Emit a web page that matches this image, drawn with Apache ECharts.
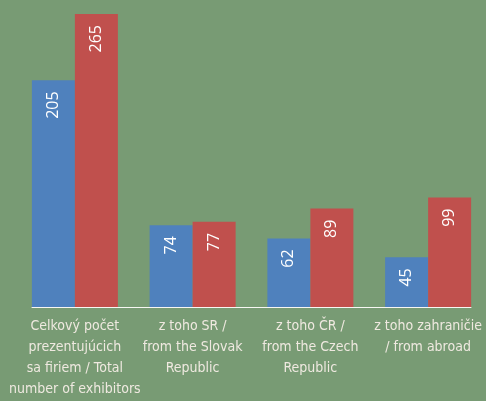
<!DOCTYPE html>
<html lang="en">
<head>
    <meta charset="UTF-8">
    <title>Exhibitors</title>
    <style>
        body, html {
            margin: 0;
            padding: 0;
            width: 100%;
            height: 100%;
            background-color: #789b74;
        }

        #container {
            width: 486px;
            height: 401px;
        }
    </style>
    <script src="https://cdn.jsdelivr.net/npm/echarts@6/dist/echarts.min.js"></script>
</head>
<body>
<div id="container"></div>
<script type="text/javascript">
    var categories = [
        'Celkový počet\nprezentujúcich\nsa firiem / Total\nnumber of exhibitors',
        'z toho SR /\nfrom the Slovak\nRepublic',
        'z toho ČR /\nfrom the Czech\nRepublic',
        'z toho zahraničie\n/ from abroad'
    ];
    var blueValues = [205, 74, 62, 45];
    var redValues = [265, 77, 89, 99];

    var dom = document.getElementById("container");
    var myChart = echarts.init(dom);

    var valueLabel = {
        show: true,
        position: 'insideTop',
        rotate: 90,
        align: 'right',
        verticalAlign: 'middle',
        distance: 11,
        color: '#ffffff',
        fontFamily: '"Open Sans", "Noto Sans", sans-serif',
        fontSize: 16
    };

    var option = {
        backgroundColor: '#789b74',
        animation: false,
        grid: [
            {left: 16, right: -1, top: 14, bottom: 94, outerBoundsMode: 'none', containLabel: false},
            // second grid only carries the shorter white axis line
            {left: 32, right: 15, top: 14, bottom: 94, outerBoundsMode: 'none', containLabel: false}
        ],
        xAxis: [{
            type: 'category',
            gridIndex: 0,
            data: categories,
            axisLine: {show: false},
            axisTick: {show: false},
            axisLabel: {
                interval: 0,
                margin: 9,
                color: '#efe9e0',
                fontFamily: '"Liberation Sans Narrow", "DejaVu Sans Condensed", sans-serif',
                fontSize: 14,
                lineHeight: 21
            }
        }, {
            type: 'category',
            gridIndex: 1,
            data: categories,
            axisLine: {show: true, lineStyle: {color: '#f7f7f3', width: 1}},
            axisTick: {show: false},
            axisLabel: {show: false}
        }],
        yAxis: [{
            type: 'value',
            gridIndex: 0,
            min: 0,
            max: 265,
            show: false,
            splitLine: {show: false}
        }, {
            type: 'value',
            gridIndex: 1,
            min: 0,
            max: 265,
            show: false,
            splitLine: {show: false}
        }],
        series: [{
            type: 'bar',
            data: blueValues,
            barWidth: 43,
            barGap: '0%',
            itemStyle: {color: '#4f81bd'},
            label: valueLabel
        }, {
            type: 'bar',
            data: redValues,
            barWidth: 43,
            barGap: '0%',
            itemStyle: {color: '#c0504d'},
            label: valueLabel
        }]
    };

    myChart.setOption(option);
</script>
</body>
</html>
